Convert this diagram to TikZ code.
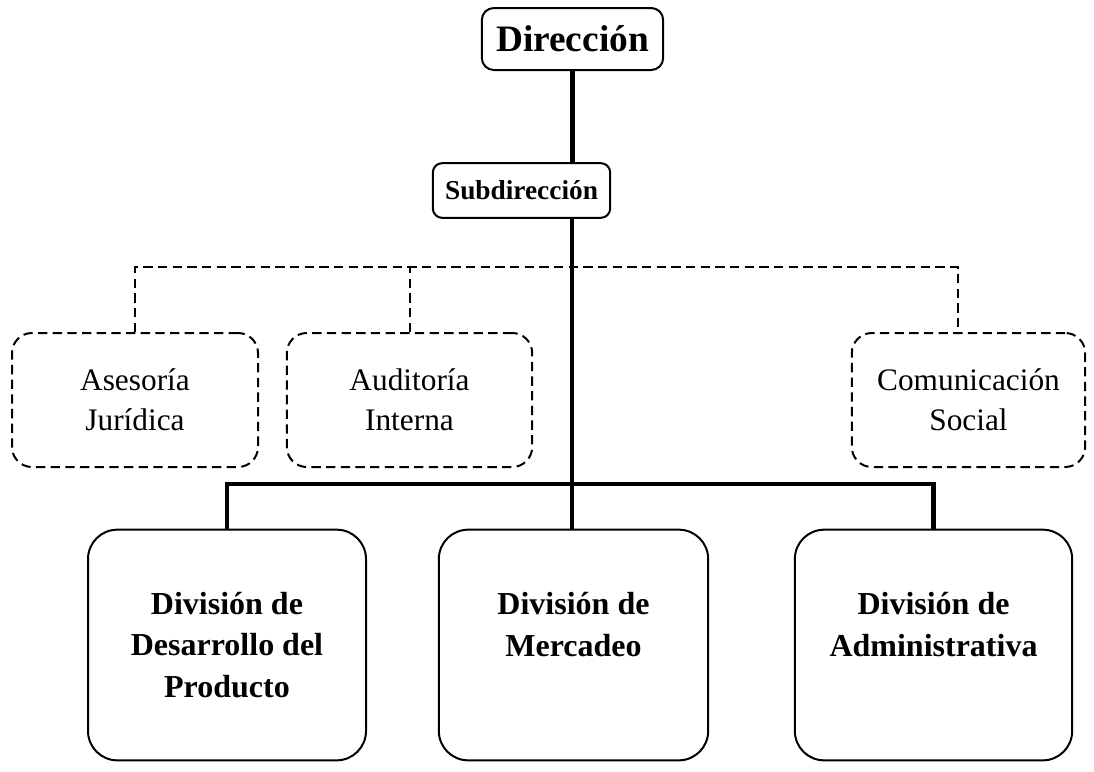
\documentclass[tikz,border=0pt]{standalone}
\usepackage{fontspec}
\setmainfont{Liberation Serif}
\usetikzlibrary{positioning}

\tikzset{
  jefe/.style={draw, line width=1.5pt, rounded corners=9pt, align=center},
  asesor/.style={draw, line width=1.5pt, dash pattern=on 7pt off 4pt, rounded corners=15pt, align=center,
    minimum height=100.5pt, font=\fontsize{23.5}{30}\selectfont},
  division/.style={draw, line width=1.5pt, rounded corners=22pt, align=center,
    minimum height=173pt, font=\fontsize{24}{31}\selectfont\bfseries},
  linea/.style={line width=3.25pt},
  punteada/.style={line width=1.5pt, dash pattern=on 7pt off 4pt}
}

\begin{document}
\begin{tikzpicture}[x=0.75pt, y=-0.75pt]
            \useasboundingbox (0,0) rectangle (1094,771);
            % Direccion y subdireccion
            \node[jefe, minimum width=136pt, minimum height=46.5pt, font=\fontsize{28}{34}\selectfont\bfseries] (dir) at (572.5,39) {Dirección};
            \node[jefe, rounded corners=7pt, minimum width=133pt, minimum height=41pt, font=\fontsize{20.5}{25}\selectfont\bfseries] (sub) at (521.5,190.5) {Subdirección};

            % Staff
            \node[asesor, minimum width=184.5pt] (ase) at (135,400) {Asesoría\\Jurídica};
            \node[asesor, minimum width=184pt] (aud) at (409.5,400) {Auditoría\\Interna};
            \node[asesor, minimum width=175pt] (com) at (968.5,400) {Comunicación\\Social};

            % Divisiones
            \node[division, minimum width=208.5pt] (des) at (227,645) {División de\\Desarrollo del\\Producto};
            \node[division, minimum width=202pt] (mer) at (573.5,645) {División de\\Mercadeo\\\phantom{P}};
            \node[division, minimum width=208pt] (adm) at (933.5,645) {División de\\Administrativa\\\phantom{P}};

            \coordinate (tronco) at (572,218);
            \coordinate (rama) at (572,267);
            \coordinate (barra) at (572,484);

            \draw[punteada] (ase.north) |- (rama) -| ([xshift=-8pt]com.north);
            \draw[punteada] (aud.north) -- (aud.north |- rama);

            \draw[linea] (dir) -- (dir |- sub.north);
            \draw[linea] (tronco) -- (tronco |- mer.north);
            \draw[linea] (des.north) |- (barra) -| (adm.north);
        \end{tikzpicture}
\end{document}
